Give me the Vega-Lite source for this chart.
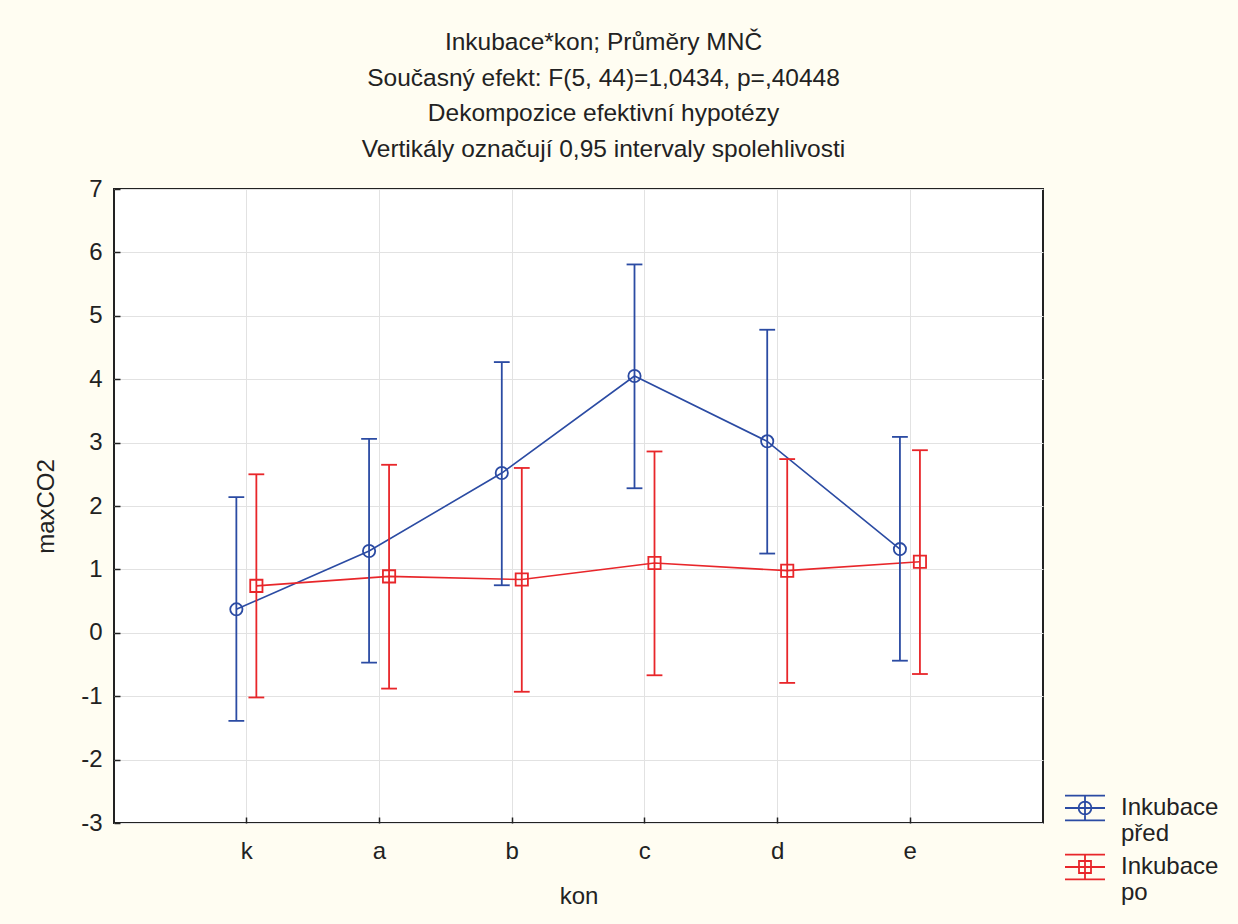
{
  "$schema": "https://vega.github.io/schema/vega-lite/v6.json",
  "width": 929,
  "height": 634,
  "autosize": {"type": "none"},
  "padding": {"left": 114, "top": 189, "right": 195, "bottom": 101},
  "background": "#fffdf2",
  "config": {
    "font": "Liberation Sans",
    "view": {"fill": "white", "stroke": "#222", "strokeWidth": 2},
    "axis": {
      "labelFont": "Liberation Sans", "labelFontSize": 24, "labelColor": "#222",
      "titleFont": "Liberation Sans", "titleFontSize": 24, "titleColor": "#222", "titleFontWeight": "normal",
      "domain": false, "tickColor": "#222", "tickSize": -6, "tickWidth": 1.5,
      "gridColor": "#e2e2e2", "gridWidth": 1
    }
  },
  "title": {
    "text": ["Inkubace*kon; Průměry MNČ", "Současný efekt: F(5, 44)=1,0434, p=,40448", "Dekompozice efektivní hypotézy", "Vertikály označují 0,95 intervaly spolehlivosti"],
    "font": "Liberation Sans", "fontSize": 24.5, "fontWeight": "normal", "color": "#222",
    "lineHeight": 35.5, "offset": 15, "dx": 25, "anchor": "middle"
  },
  "data": {
    "values": [
      {"kon": "k", "Inkubace": "Inkubace před", "mean": 0.37, "lo": -1.39, "hi": 2.14},
      {"kon": "a", "Inkubace": "Inkubace před", "mean": 1.29, "lo": -0.47, "hi": 3.06},
      {"kon": "b", "Inkubace": "Inkubace před", "mean": 2.52, "lo": 0.75, "hi": 4.27},
      {"kon": "c", "Inkubace": "Inkubace před", "mean": 4.05, "lo": 2.28, "hi": 5.81},
      {"kon": "d", "Inkubace": "Inkubace před", "mean": 3.02, "lo": 1.25, "hi": 4.78},
      {"kon": "e", "Inkubace": "Inkubace před", "mean": 1.32, "lo": -0.44, "hi": 3.09},
      {"kon": "k", "Inkubace": "Inkubace po", "mean": 0.74, "lo": -1.02, "hi": 2.50},
      {"kon": "a", "Inkubace": "Inkubace po", "mean": 0.89, "lo": -0.88, "hi": 2.65},
      {"kon": "b", "Inkubace": "Inkubace po", "mean": 0.84, "lo": -0.93, "hi": 2.60},
      {"kon": "c", "Inkubace": "Inkubace po", "mean": 1.10, "lo": -0.67, "hi": 2.86},
      {"kon": "d", "Inkubace": "Inkubace po", "mean": 0.98, "lo": -0.79, "hi": 2.74},
      {"kon": "e", "Inkubace": "Inkubace po", "mean": 1.12, "lo": -0.65, "hi": 2.88}
    ]
  },
  "encoding": {
    "x": {
      "field": "kon", "type": "nominal", "sort": ["k", "a", "b", "c", "d", "e"],
      "scale": {"type": "band", "paddingInner": 0, "paddingOuter": 0.5},
      "axis": {"labelAngle": 0, "labelPadding": 22, "titlePadding": 21, "grid": true, "bandPosition": 0.5, "title": "kon"}
    },
    "xOffset": {
      "field": "Inkubace", "type": "nominal", "sort": ["Inkubace před", "Inkubace po"],
      "scale": {"paddingInner": 0, "paddingOuter": 0, "range": [46, 86]}
    },
    "color": {
      "field": "Inkubace", "type": "nominal",
      "scale": {"domain": ["Inkubace před", "Inkubace po"], "range": ["#2b4ba3", "#e8262a"]},
      "legend": {
        "orient": "none", "legendX": 950, "legendY": 598, "title": null, "padding": 0,
        "labelFont": "Liberation Sans", "labelFontSize": 24, "labelColor": "#222", "labelOffset": 15,
        "labelExpr": "split(datum.label, ' ')",
        "symbolFillColor": "transparent", "symbolOpacity": 1,
        "symbolSize": 1600, "symbolStrokeWidth": 1.8, "rowPadding": -13
      }
    }
  },
  "layer": [
    {
      "mark": {"type": "line", "strokeWidth": 1.6},
      "encoding": {
        "y": {"field": "mean", "type": "quantitative",
          "scale": {"domain": [-3, 7], "nice": false, "zero": false},
          "axis": {"values": [-3, -2, -1, 0, 1, 2, 3, 4, 5, 6, 7], "labelExpr": "toString(datum.value)", "labelPadding": 18, "titlePadding": 22, "title": "maxCO2", "grid": true}
        }
      }
    },
    {
      "mark": {"type": "rule", "strokeWidth": 1.8},
      "encoding": {
        "y": {"field": "lo", "type": "quantitative"},
        "y2": {"field": "hi"}
      }
    },
    {
      "mark": {"type": "tick", "size": 14, "thickness": 0.01, "filled": false, "strokeWidth": 1.8, "opacity": 1},
      "encoding": {"y": {"field": "lo", "type": "quantitative"}}
    },
    {
      "mark": {"type": "tick", "size": 14, "thickness": 0.01, "filled": false, "strokeWidth": 1.8, "opacity": 1},
      "encoding": {"y": {"field": "hi", "type": "quantitative"}}
    },
    {
      "transform": [{"filter": "datum.Inkubace == 'Inkubace před'"}],
      "mark": {"type": "point", "shape": "circle", "filled": false, "strokeWidth": 1.8, "size": 150, "opacity": 1},
      "encoding": {"y": {"field": "mean", "type": "quantitative"}}
    },
    {
      "transform": [{"filter": "datum.Inkubace == 'Inkubace po'"}],
      "mark": {"type": "point", "shape": "square", "filled": false, "strokeWidth": 1.8, "size": 150, "opacity": 1},
      "encoding": {"y": {"field": "mean", "type": "quantitative"}}
    },
    {
      "transform": [{"filter": "false"}],
      "mark": {"type": "point", "filled": false, "strokeWidth": 1.8, "opacity": 1},
      "encoding": {
        "y": {"field": "mean", "type": "quantitative"},
        "shape": {"field": "Inkubace", "type": "nominal",
          "scale": {"domain": ["Inkubace před", "Inkubace po"],
            "range": ["M-1,-0.62H1M-1,0H1M-1,0.62H1M0,-0.62V0.62M0.32,0A0.32,0.32 0 1,1 -0.32,0A0.32,0.32 0 1,1 0.32,0", "M-1,-0.62H1M-1,0H1M-1,0.62H1M0,-0.62V0.62M-0.3,-0.3H0.3V0.3H-0.3Z"]},
          "legend": {"title": null}
        }
      }
    }
  ]
}
